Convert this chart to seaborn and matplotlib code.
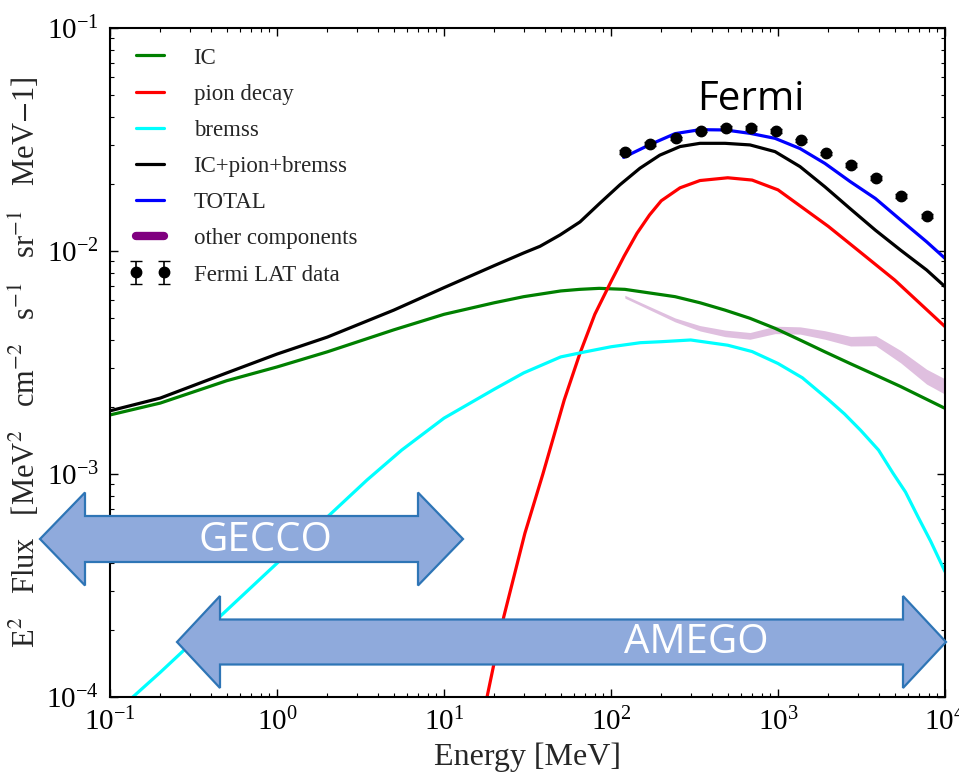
import numpy as np
import pandas as pd
import matplotlib
matplotlib.use("Agg")
import matplotlib.pyplot as plt
import seaborn as sns
from matplotlib.patches import Polygon
from matplotlib.lines import Line2D
from matplotlib.ticker import LogLocator, NullFormatter

# ---------------- data ----------------
ic_E = [0.1, 0.2, 0.5, 1, 2, 5, 10, 20, 30, 50, 65, 85, 121, 242, 341, 482, 680, 960, 1355, 1910, 2700, 3830, 5410, 10000]
ic_F = [1.84e-3, 2.08e-3, 2.62e-3, 3.02e-3, 3.53e-3, 4.43e-3, 5.2e-3, 5.86e-3, 6.24e-3, 6.62e-3, 6.73e-3, 6.8e-3,
        6.73e-3, 6.24e-3, 5.86e-3, 5.43e-3, 4.99e-3, 4.5e-3, 3.99e-3, 3.53e-3, 3.13e-3, 2.78e-3, 2.47e-3, 1.97e-3]

pion_E = [15, 18.1, 22.8, 30.5, 39.1, 52.5, 65.2, 80, 101, 120, 143, 170, 200, 259, 341, 500, 700, 1000, 2000, 3000, 5000, 10000]
pion_F = [5.5e-5, 1.0e-4, 2.29e-4, 5.42e-4, 1.0e-3, 2.15e-3, 3.48e-3, 5.2e-3, 7.4e-3, 9.5e-3, 1.2e-2, 1.45e-2,
          1.68e-2, 1.92e-2, 2.07e-2, 2.13e-2, 2.08e-2, 1.88e-2, 1.29e-2, 1.01e-2, 7.41e-3, 4.58e-3]

brem_E = [0.1, 0.137, 0.2, 0.5, 1, 2, 3.46, 5.58, 10, 20, 30, 50, 70, 100, 150, 200, 300, 500, 700, 1000, 1400,
          2010, 2500, 3125, 4000, 4875, 5800, 6880, 8200, 10000]
brem_F = [8.0e-5, 1.0e-4, 1.29e-4, 2.45e-4, 3.98e-4, 6.41e-4, 9.4e-4, 1.28e-3, 1.78e-3, 2.40e-3, 2.84e-3, 3.35e-3,
          3.53e-3, 3.72e-3, 3.88e-3, 3.92e-3, 3.99e-3, 3.78e-3, 3.54e-3, 3.13e-3, 2.70e-3, 2.15e-3, 1.86e-3, 1.57e-3,
          1.28e-3, 1.01e-3, 8.3e-4, 6.44e-4, 5.0e-4, 3.65e-4]

sum_E = [0.1, 0.2, 0.5, 1, 2, 5, 10, 20, 30, 37.6, 49.5, 65.2, 85.9, 113, 149, 196, 259, 341, 482, 680, 960, 1355,
         1910, 2700, 3830, 5410, 7760, 10000]
sum_F = [1.92e-3, 2.19e-3, 2.84e-3, 3.45e-3, 4.11e-3, 5.43e-3, 6.85e-3, 8.6e-3, 9.8e-3, 1.05e-2, 1.18e-2, 1.35e-2,
         1.64e-2, 1.98e-2, 2.35e-2, 2.69e-2, 2.94e-2, 3.04e-2, 3.04e-2, 2.99e-2, 2.79e-2, 2.39e-2, 1.94e-2, 1.55e-2,
         1.24e-2, 1.01e-2, 8.22e-3, 6.92e-3]

total_E = [119, 171, 242, 341, 482, 680, 960, 1355, 1910, 2700, 3830, 5410, 7760, 10000]
total_F = [2.63e-2, 3.0e-2, 3.36e-2, 3.5e-2, 3.49e-2, 3.37e-2, 3.2e-2, 2.88e-2, 2.47e-2, 2.05e-2, 1.72e-2, 1.38e-2,
           1.10e-2, 9.27e-3]

other_E = [121, 171, 242, 341, 482, 680, 960, 1355, 1910, 2720, 3850, 5430, 7760, 10000]
other_lo = [6.15e-3, 5.44e-3, 4.81e-3, 4.38e-3, 4.13e-3, 4.02e-3, 4.26e-3, 4.24e-3, 4.02e-3, 3.75e-3, 3.76e-3,
            3.15e-3, 2.53e-3, 2.28e-3]
other_hi = [6.33e-3, 5.63e-3, 5.01e-3, 4.63e-3, 4.42e-3, 4.31e-3, 4.60e-3, 4.57e-3, 4.39e-3, 4.14e-3, 4.17e-3,
            3.58e-3, 2.95e-3, 2.67e-3]

fermi_E = [121, 171, 244, 344, 486, 686, 969, 1368, 1930, 2750, 3860, 5460, 7770]
fermi_F = [2.78e-2, 3.01e-2, 3.2e-2, 3.47e-2, 3.55e-2, 3.55e-2, 3.45e-2, 3.13e-2, 2.74e-2, 2.43e-2, 2.12e-2,
           1.77e-2, 1.43e-2]
fermi_err = [6e-4, 6e-4, 6e-4, 7e-4, 7e-4, 7e-4, 7e-4, 6e-4, 5e-4, 5e-4, 4e-4, 4e-4, 3e-4]

x_ticks = [1e-1, 1e0, 1e1, 1e2, 1e3, 1e4]
y_ticks = [1e-4, 1e-3, 1e-2, 1e-1]

# ---------------- style ----------------
sns.set_style("ticks")
plt.rcParams.update({
    "font.family": ["Liberation Serif", "DejaVu Serif"],
    "mathtext.fontset": "stix",
    "xtick.direction": "in", "ytick.direction": "in",
    "xtick.top": True, "ytick.right": True,
    "xtick.major.size": 6, "ytick.major.size": 6,
    "xtick.minor.size": 3, "ytick.minor.size": 3,
    "xtick.major.width": 1.0, "ytick.major.width": 1.0,
    "xtick.minor.width": 0.8, "ytick.minor.width": 0.8,
    "axes.edgecolor": "black", "axes.linewidth": 1.5,
    "xtick.color": "black", "ytick.color": "black",
})

fig = plt.figure(figsize=(9.59, 7.79), dpi=100)
W, H = 959, 779
ax = fig.add_axes([110 / W, 1 - 697 / H, (945 - 110) / W, (697 - 28) / H])
ax.set_xscale("log")
ax.set_yscale("log")

lw = 2.3
sns.lineplot(x=ic_E, y=ic_F, ax=ax, color="green", lw=lw, sort=False)
sns.lineplot(x=pion_E, y=pion_F, ax=ax, color="red", lw=lw, sort=False)
sns.lineplot(x=brem_E, y=brem_F, ax=ax, color="cyan", lw=lw, sort=False)
sns.lineplot(x=sum_E, y=sum_F, ax=ax, color="black", lw=lw, sort=False)
sns.lineplot(x=total_E, y=total_F, ax=ax, color="blue", lw=lw, sort=False)
ax.fill_between(other_E, other_lo, other_hi, color="purple", alpha=0.25, lw=0)
eb = ax.errorbar(fermi_E, fermi_F, yerr=fermi_err, fmt="o", color="black", ms=7.5, capsize=4, elinewidth=1.2)

ax.set_xlim(1e-1, 1e4)
ax.set_ylim(1e-4, 1e-1)
ax.set_xticks(x_ticks)
ax.set_yticks(y_ticks)
ax.xaxis.set_minor_locator(LogLocator(base=10, subs=np.arange(2, 10), numticks=20))
ax.yaxis.set_minor_locator(LogLocator(base=10, subs=np.arange(2, 10), numticks=20))
ax.xaxis.set_minor_formatter(NullFormatter())
ax.yaxis.set_minor_formatter(NullFormatter())
ax.tick_params(axis="both", which="major", labelsize=21, pad=8)
for s in ax.spines.values():
    s.set_visible(True)

ax.set_xlabel("Energy [MeV]", fontsize=23, labelpad=4)
ax.set_ylabel(r"E$^2$   Flux   [MeV$^2$   cm$^{-2}$   s$^{-1}$   sr$^{-1}$   MeV$-$1]", fontsize=22, labelpad=3)

handles = [Line2D([], [], color="green", lw=lw), Line2D([], [], color="red", lw=lw),
           Line2D([], [], color="cyan", lw=lw), Line2D([], [], color="black", lw=lw),
           Line2D([], [], color="blue", lw=lw), Line2D([], [], color="purple", lw=6), eb]
labels = ["IC", "pion decay", "bremss", "IC+pion+bremss", "TOTAL", "other components", "Fermi LAT data"]
ax.legend(handles, labels, loc="upper left", frameon=False, fontsize=16.5, numpoints=2,
          handlelength=1.8, handletextpad=1.0, labelspacing=0.66, borderaxespad=0.45)

# ---------------- annotation arrows (figure pixel geometry) ----------------
def arrow(x0, x1, yc, head_len, shaft_half, head_half):
    pts = [(x0, yc), (x0 + head_len, yc - head_half), (x0 + head_len, yc - shaft_half),
           (x1 - head_len, yc - shaft_half), (x1 - head_len, yc - head_half), (x1, yc),
           (x1 - head_len, yc + head_half), (x1 - head_len, yc + shaft_half),
           (x0 + head_len, yc + shaft_half), (x0 + head_len, yc + head_half)]
    pts = [(x / W, 1 - y / H) for x, y in pts]
    p = Polygon(pts, closed=True, transform=fig.transFigure, facecolor="#8FAADC",
                edgecolor="#2E75B6", lw=1.6, zorder=10)
    fig.patches.append(p)

arrow(40, 463, 539, 45, 23, 46.5)
arrow(177, 946, 642, 43, 22.5, 46)
fig.text(265 / W, 1 - 541 / H, "GECCO", color="white", fontsize=29, family="Open Sans",
         ha="center", va="center", zorder=11)
fig.text(696 / W, 1 - 643 / H, "AMEGO", color="white", fontsize=29, family="Open Sans",
         ha="center", va="center", zorder=11)
fig.text(751 / W, 1 - 100 / H, "Fermi", color="black", fontsize=29, family="Open Sans",
         ha="center", va="center", zorder=11)

fig.savefig("out.png", dpi=100)
